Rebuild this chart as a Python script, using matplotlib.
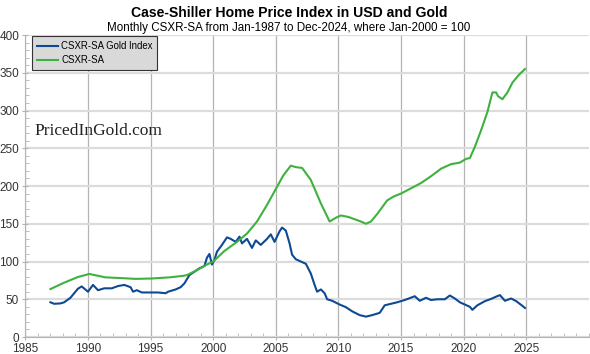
import numpy as np
import matplotlib.pyplot as plt
from matplotlib.ticker import MultipleLocator

# CSXR-SA (Jan-2000 = 100)
usd_year = [1987.0, 1988.1, 1989.2, 1990.1, 1991.4, 1992.7, 1993.8, 1995.1, 1996.5, 1997.6,
            1997.9, 1998.7, 1999.5, 2000.0, 2000.9, 2001.9, 2002.7, 2003.5, 2004.3, 2005.0,
            2005.6, 2006.2, 2006.6, 2007.1, 2007.8, 2008.6, 2009.3, 2009.8, 2010.2, 2010.8,
            2011.3, 2011.8, 2012.2, 2012.6, 2013.1, 2013.5, 2013.9, 2014.4, 2015.0, 2015.8,
            2016.6, 2017.4, 2018.2, 2019.0, 2019.7, 2020.2, 2020.5, 2020.9, 2021.4, 2021.9,
            2022.3, 2022.6, 2022.75, 2023.1, 2023.5, 2023.9, 2024.4, 2024.9]
usd_val = [63.5, 72, 79.5, 83.5, 79, 78, 77, 77.5, 79, 81,
           82, 88.5, 96, 100, 114, 126, 137, 153, 175, 196,
           214, 227, 225, 224, 208, 177, 153, 158, 161, 159,
           156, 153, 150, 153, 163, 172, 181, 186, 190, 197,
           204, 213, 223, 229, 231, 236, 237, 252, 274, 298,
           324, 324, 319, 315, 324, 337, 347, 355]

# CSXR-SA priced in gold
gold_year = [1987.0, 1987.3, 1987.8, 1988.1, 1988.6, 1989.2, 1989.5, 1990.0, 1990.4, 1990.8,
             1991.3, 1991.9, 1992.4, 1992.9, 1993.4, 1993.6, 1993.9, 1994.3, 1995.1, 1995.6,
             1996.2, 1996.4, 1997.0, 1997.4, 1997.7, 1998.1, 1998.5, 1998.9, 1999.3, 1999.5,
             1999.7, 1999.9, 2000.1, 2000.3, 2000.7, 2001.1, 2001.4, 2001.8, 2002.1, 2002.3,
             2002.7, 2003.1, 2003.4, 2003.8, 2004.3, 2004.6, 2004.9, 2005.3, 2005.5, 2005.8,
             2006.1, 2006.3, 2006.6, 2007.0, 2007.4, 2007.8, 2008.1, 2008.3, 2008.6, 2008.9,
             2009.1, 2009.5, 2010.1, 2010.6, 2011.1, 2011.7, 2012.2, 2012.7, 2013.3, 2013.7,
             2014.2, 2014.7, 2015.3, 2016.1, 2016.5, 2017.0, 2017.4, 2017.9, 2018.5, 2018.9,
             2019.3, 2019.7, 2020.1, 2020.5, 2020.7, 2021.1, 2021.7, 2022.2, 2022.6, 2022.9,
             2023.3, 2023.8, 2024.2, 2024.6, 2024.9]
gold_val = [46, 44, 44.5, 46, 52, 64, 67, 60, 69, 62,
            64.5, 64.5, 67.5, 69, 66, 60, 62, 59, 59, 59,
            58, 60, 63, 66, 71, 82, 86.5, 91, 94, 105,
            110, 96, 102, 113, 122, 132, 130, 126, 133, 124,
            130, 118, 128, 122, 130, 136, 126, 140, 145, 141,
            124, 109, 103, 100, 97, 84, 69, 60, 63, 58,
            50, 48, 43, 39.5, 34, 29, 27, 29, 32, 42,
            44, 46, 49, 54, 48, 52, 49, 50, 50, 55,
            51, 46, 43, 40, 36, 42, 47.5, 50.5, 53.5, 55.5,
            48, 51, 47.5, 42.5, 38.5]

plt.rcParams['font.family'] = ['Liberation Sans', 'DejaVu Sans']

fig = plt.figure(figsize=(5.9, 3.54), dpi=100)
ax = fig.add_axes([0.043, 0.048, 0.955, 0.853])

ax.plot(gold_year, gold_val, color='#0e4a94', lw=1.5, label='CSXR-SA Gold Index')
ax.plot(usd_year, usd_val, color='#3fb13f', lw=1.5, label='CSXR-SA')

ax.set_xlim(1985, 2030)
ax.set_ylim(0, 400)
ax.xaxis.set_minor_locator(MultipleLocator(1))
ax.yaxis.set_major_locator(MultipleLocator(50))
ax.yaxis.set_minor_locator(MultipleLocator(10))
ax.set_xticks([1985, 1990, 1995, 2000, 2005, 2010, 2015, 2020, 2025])

ax.grid(axis='y', which='major', color='#dcdcdc', lw=1.6)
ax.grid(axis='x', which='major', color='#b3b3b3', lw=0.9)
ax.set_axisbelow(True)

for s in ['top', 'right']:
    ax.spines[s].set_visible(False)
for s in ['left', 'bottom']:
    ax.spines[s].set_color('#b3b3b3')

ax.tick_params(which='major', direction='inout', length=5, color='#b3b3b3',
               labelsize=8.5, labelcolor='#333333', pad=2)
ax.tick_params(which='minor', direction='in', length=3, color='#b3b3b3')

fig.text(0.49, 0.962, 'Case-Shiller Home Price Index in USD and Gold', ha='center',
         va='center', fontsize=10.1, fontweight='bold')
fig.text(0.49, 0.922, 'Monthly CSXR-SA from Jan-1987 to Dec-2024, where Jan-2000 = 100',
         ha='center', va='center', fontsize=8.4)

ax.text(1985.7, 273, 'PricedInGold.com', fontsize=12.5, family='Liberation Serif',
        color='#222222', va='center')

leg = ax.legend(loc='upper left', bbox_to_anchor=(0.003, 1.012), fontsize=6.9,
                frameon=True, fancybox=False, handlelength=2.2, borderpad=0.5,
                labelspacing=0.45, handletextpad=0.35)
leg.get_frame().set_facecolor('#d9d9d9')
leg.get_frame().set_edgecolor('#333333')
leg.get_frame().set_linewidth(0.8)
leg.get_frame().set_alpha(1)

fig.savefig('out.png', dpi=100)
